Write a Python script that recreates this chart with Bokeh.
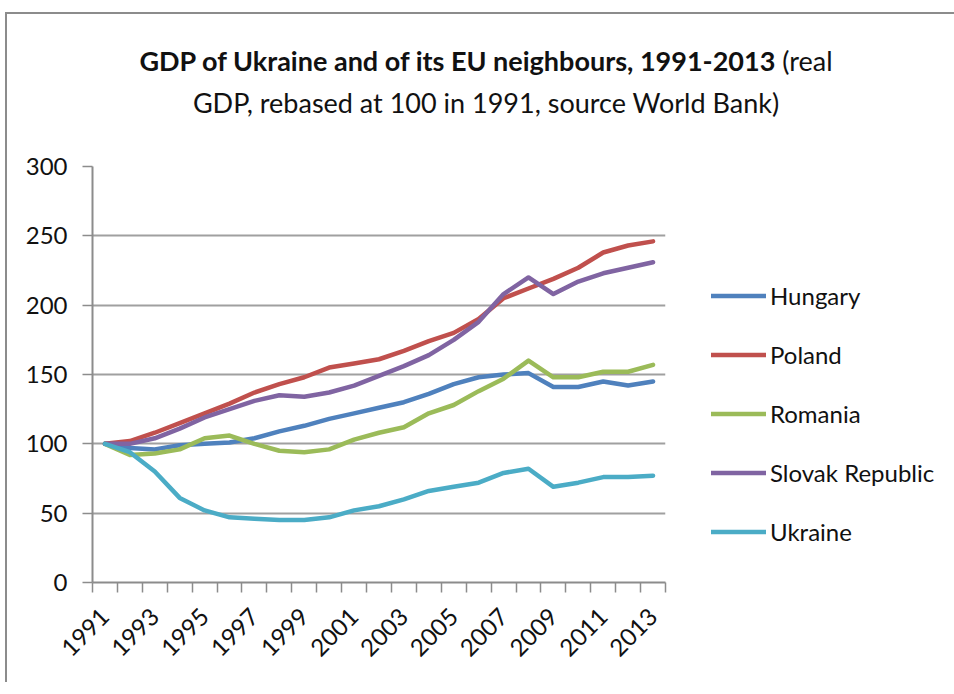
import math
from bokeh.plotting import figure
from bokeh.models import Range1d, FixedTicker, Legend, LegendItem, Div
from bokeh.layouts import column
from bokeh.embed import file_html
from bokeh.resources import INLINE

years = list(range(1991, 2014))
hungary = [100, 97, 96, 99, 100, 101, 104, 109, 113, 118, 122, 126, 130, 136, 143, 148, 150, 151, 141, 141, 145, 142, 145]
poland = [100, 102, 108, 115, 122, 129, 137, 143, 148, 155, 158, 161, 167, 174, 180, 190, 205, 212, 219, 227, 238, 243, 246]
romania = [100, 92, 93, 96, 104, 106, 100, 95, 94, 96, 103, 108, 112, 122, 128, 138, 147, 160, 148, 148, 152, 152, 157]
slovak = [100, 100, 104, 111, 119, 125, 131, 135, 134, 137, 142, 149, 156, 164, 175, 188, 208, 220, 208, 217, 223, 227, 231]
ukraine = [100, 94, 80, 61, 52, 47, 46, 45, 45, 47, 52, 55, 60, 66, 69, 72, 79, 82, 69, 72, 76, 76, 77]

series_names = ["Hungary", "Poland", "Romania", "Slovak Republic", "Ukraine"]
series_values = [hungary, poland, romania, slovak, ukraine]
colors = ["#4F81BD", "#C0504D", "#9BBB59", "#8064A2", "#4BACC6"]
label_years = [1991, 1993, 1995, 1997, 1999, 2001, 2003, 2005, 2007, 2009, 2011, 2013]
y_ticks = [0, 50, 100, 150, 200, 250, 300]
title_bold = "GDP of Ukraine and of its EU neighbours, 1991-2013"
title_rest1 = "(real"
title_line2 = "GDP, rebased at 100 in 1991, source World Bank)"

FONT = "Lato"
TXT = "#111111"

title_div = Div(
    text=(f'<div style="margin-left:13px;width:932px;text-align:center;font-family:{FONT};'
          f'font-size:27px;line-height:42px;padding-top:26px;color:{TXT};">'
          f'<b>{title_bold}</b> {title_rest1}<br>{title_line2}</div>'),
    width=945, height=130, margin=0)

p = figure(frame_width=573, frame_height=416, output_backend="svg", toolbar_location=None,
           x_range=Range1d(1990.5, 2013.5), y_range=Range1d(0, 300),
           min_border_left=85, min_border_top=22, min_border_right=0, min_border_bottom=100)
p.outline_line_color = None
p.background_fill_color = "white"
p.border_fill_color = "white"

xa = p.xaxis[0]
xa.ticker = FixedTicker(ticks=label_years, minor_ticks=[y - 0.5 for y in years] + [2013.5])
xa.major_tick_line_color = None
xa.major_tick_out = 10
xa.major_tick_in = 0
xa.minor_tick_line_color = "#8c8c8c"
xa.minor_tick_line_width = 1.5
xa.minor_tick_out = 10
xa.minor_tick_in = 0
xa.axis_line_color = "#8c8c8c"
xa.axis_line_width = 2
xa.major_label_orientation = math.pi / 4
xa.major_label_standoff = 20
xa.major_label_text_font = FONT
xa.major_label_text_font_size = "24px"
xa.major_label_text_color = TXT

ya = p.yaxis[0]
ya.ticker = FixedTicker(ticks=y_ticks)
ya.minor_tick_line_color = None
ya.major_tick_line_color = "#8c8c8c"
ya.major_tick_line_width = 1.5
ya.major_tick_out = 10
ya.major_tick_in = 0
ya.axis_line_color = "#8c8c8c"
ya.axis_line_width = 2
ya.major_label_standoff = 15
ya.major_label_text_font = FONT
ya.major_label_text_font_size = "24px"
ya.major_label_text_color = TXT

p.xgrid.grid_line_color = None
p.ygrid.ticker = FixedTicker(ticks=y_ticks)
p.ygrid.grid_line_color = "#a0a0a0"
p.ygrid.grid_line_width = 2

items = []
for name, vals, c in zip(series_names, series_values, colors):
    r = p.line(years, vals, line_color=c, line_width=4.5, line_join="round", line_cap="round")
    items.append(LegendItem(label=name, renderers=[r]))

legend = Legend(items=items, location=(46, 36), orientation="vertical",
                glyph_width=55, glyph_height=29, label_height=29, spacing=30,
                label_standoff=4, padding=0, margin=0,
                border_line_color=None, background_fill_alpha=0,
                label_text_font=FONT, label_text_font_size="24px", label_text_color=TXT)
p.add_layout(legend, "right")

layout = column(title_div, p, spacing=0)
layout.styles = {"margin-left": "5px", "margin-top": "12px",
                 "border-left": "2px solid #8c8c8c", "border-top": "2px solid #8c8c8c",
                 "background-color": "white"}

open("out.html", "w").write(file_html(layout, INLINE))
